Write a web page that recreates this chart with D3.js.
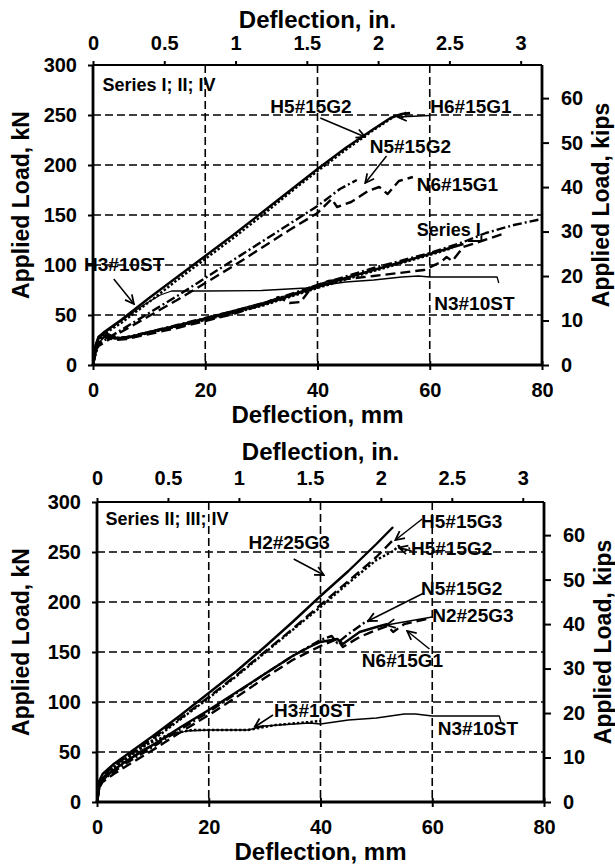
<!DOCTYPE html>
<html>
<head>
<meta charset="utf-8">
<script src="https://cdnjs.cloudflare.com/ajax/libs/d3/7.8.5/d3.min.js"></script>
<style>
    body { margin: 0; background: #fff; }
    svg text { font-family: "Liberation Sans", Arial, Helvetica, sans-serif; font-weight: bold; fill: #000; }
</style>
</head>
<body>
<div id="chart"></div>
<script>

// tick labels
const kNTicks = [0, 50, 100, 150, 200, 250, 300];
const mmTicks = [0, 20, 40, 60, 80];
const inTicks = [0, 0.5, 1, 1.5, 2, 2.5, 3];
const kipTicks = [0, 10, 20, 30, 40, 50, 60];

// ---- top chart: Series I; II; IV  [deflection mm, load kN] ----
const topH6_15G1 = [[0,0],[0.5,20],[1,28],[2,33],[5,45],[10,67],[15,88],[20,109],[25,130],[30,152],[35,174],[40,196],[45,217],[50,236],[53,247],[55,251],[56.5,252]];
const topH5_15G2 = [[0,0],[0.5,18],[1,26],[2,31],[5,42],[10,63],[15,85],[20,106],[25,127],[30,149],[35,172],[40,194],[45,215],[50,235],[53,246],[54,250],[55,247],[56,253]];
const topN5_15G2 = [[0,0],[0.5,16],[1,21],[3,28],[5,35],[10,52],[15,69],[20,87],[25,105],[30,123],[35,141],[40,159],[44,176],[47,185]];
const topN6_15G1 = [[0,0],[0.5,15],[1,19],[3,26],[5,33],[10,49],[15,65],[20,82],[25,99],[30,117],[35,135],[40,152],[42.5,166],[43.5,158],[46,163],[49,174],[51,178],[52.5,171],[54.5,184],[57,188]];
const topH3_10ST = [[0,0],[0.5,20],[1,27],[3,36],[6,48],[9,60],[12,70],[14,74],[20,74],[30,74.5],[38,77],[41,80]];
const topN3_10ST = [[0,0],[1,22],[2,28],[4,26],[8,30],[15,40],[20,47],[30,62],[40,79],[45,83],[50,85],[55,88],[58,89],[60,88],[72,88],[72.3,82]];
const topS1Solid = [[0,0],[0.5,20],[1,28],[2,32],[3,30],[4,27],[6,27],[8,30],[10,33],[15,39],[20,46],[25,53],[30,60],[35,69],[40,78],[45,87],[50,95],[55,103],[60,111],[63,116],[66,121]];
const topS1Dash = [[0,0],[0.5,18],[1,24],[2,28],[4,25],[6,26],[10,31],[15,37],[20,44],[25,51],[30,60],[33,68],[35,62],[37,63],[39,78],[42,84],[50,89],[59,95],[62,103],[63,108],[64,104],[66,118],[73,131]];
const topS1DashDot = [[0,0],[0.5,19],[1,26],[2,30],[4,27],[6,28],[10,33],[15,40],[20,47],[30,61],[40,80],[50,97],[60,112],[66,123],[70,132],[75,140],[80,146]];
const topS1Dot = [[0,0],[1,22],[2,29],[4,27],[6,27],[10,32],[20,45],[30,59],[40,77],[50,94],[60,110],[64,117]];

// ---- bottom chart: Series II; III; IV ----
const botH2_25G3 = [[0,0],[0.3,20],[1,28],[3,38],[5,46],[10,66],[15,87],[20,109],[25,131],[30,155],[35,180],[40,206],[45,231],[50,258],[53,275]];
const botH5_15G3 = [[0,0],[0.3,18],[1,26],[3,36],[5,44],[10,64],[15,84],[20,105],[25,127],[30,150],[35,173],[40,197],[45,221],[50,245],[53,262]];
const botH5_15G2 = [[0,0],[0.3,16],[1,24],[3,34],[5,42],[10,62],[15,83],[20,104],[25,126],[30,149],[35,172],[40,195],[45,219],[50,242],[53,251],[54,256],[55,251],[56,254]];
const botN2_25G3 = [[0,0],[0.5,18],[1,24],[3,32],[5,40],[10,57],[15,75],[20,92],[25,110],[30,128],[35,146],[38,155],[40,160],[43,163],[44,158],[47,170],[50,175],[52,178]];
const botN5_15G2 = [[0,0],[0.5,17],[1,22],[3,30],[5,38],[10,55],[15,73],[20,90],[25,109],[30,128],[35,146],[40,162],[42,166],[43,159],[45,168],[48,180],[49,182]];
const botN6_15G1 = [[0,0],[0.5,15],[1,20],[3,28],[5,35],[10,52],[15,70],[20,87],[25,105],[30,124],[35,142],[40,156],[43,163],[44,155],[47,165],[50,172],[52,176],[53,170],[55,178],[59,183]];
const botH3_10ST = [[0,0],[0.5,20],[3,35],[8,55],[13,68],[17,72],[27,72],[32,77],[40,81]];
const botN3_10ST = [[0,0],[0.5,18],[3,32],[8,52],[13,66],[16,71],[20,72],[27,72],[30,76],[38,79],[40,78],[45,82],[50,84],[55,88],[57,88],[60,86],[72,86],[72.3,80]];


class LoadDeflectionVis {
    constructor(svg, box, curves, notes) {
        this.svg = svg;
        this.box = box;
        this.curves = curves;
        this.notes = notes;

        this.initVis();
    }

    initVis() {
        let vis = this;

        vis.g = vis.svg.append("g")
            .attr("transform", `translate(${vis.box.left}, ${vis.box.top})`);

        vis.width = vis.box.width;
        vis.height = vis.box.height;

        vis.x = d3.scaleLinear().domain([0, 80]).range([0, vis.width]);
        vis.xIn = d3.scaleLinear().domain([0, 80 / 25.4]).range([0, vis.width]);
        vis.y = d3.scaleLinear().domain([0, 300]).range([vis.height, 0]);
        vis.yKip = d3.scaleLinear().domain([0, 300 / 4.448]).range([vis.height, 0]);

        vis.line = d3.line()
            .x(d => vis.x(d[0]))
            .y(d => vis.y(d[1]));

        vis.drawGrid();
        vis.drawCurves();
        vis.drawAxes();
        vis.drawNotes();
    }

    drawGrid() {
        let vis = this;

        vis.g.selectAll(".hgrid")
            .data(kNTicks.filter(d => d > 0 && d < 300))
            .enter()
            .append("line")
            .attr("class", "hgrid")
            .attr("x1", 0)
            .attr("x2", vis.width)
            .attr("y1", d => vis.y(d))
            .attr("y2", d => vis.y(d))
            .attr("stroke", "#000")
            .attr("stroke-width", 1.6)
            .attr("stroke-dasharray", "8,4");

        vis.g.selectAll(".vgrid")
            .data(mmTicks.filter(d => d > 0 && d < 80))
            .enter()
            .append("line")
            .attr("class", "vgrid")
            .attr("x1", d => vis.x(d))
            .attr("x2", d => vis.x(d))
            .attr("y1", 0)
            .attr("y2", vis.height)
            .attr("stroke", "#000")
            .attr("stroke-width", 1.6)
            .attr("stroke-dasharray", "8,4");
    }

    drawCurves() {
        let vis = this;

        // line styles of the scanned plot
        let dashes = {
            solid: null,
            thin: null,
            dash: "10,5",
            dot: "2.5,2",
            dashdot: "9,3,2,3"
        };

        vis.g.selectAll(".curve")
            .data(vis.curves)
            .enter()
            .append("path")
            .attr("class", "curve")
            .attr("d", d => vis.line(d.values))
            .attr("fill", "none")
            .attr("stroke", "#000")
            .attr("stroke-width", d => d.style === "thin" ? 1.3 : 2.4)
            .attr("stroke-dasharray", d => dashes[d.style])
            .attr("stroke-linejoin", "round");
    }

    drawAxes() {
        let vis = this;

        // left kN
        let left = vis.g.append("g")
            .call(d3.axisLeft(vis.y).tickValues(kNTicks).tickSize(5).tickPadding(11));
        // bottom mm
        let bottom = vis.g.append("g")
            .attr("transform", `translate(0, ${vis.height})`)
            .call(d3.axisBottom(vis.x).tickValues(mmTicks).tickSize(5).tickPadding(13));
        // top inches
        let top = vis.g.append("g")
            .call(d3.axisTop(vis.xIn).tickValues(inTicks).tickFormat(d3.format("")).tickSize(4).tickPadding(vis.box.inPad));
        // right kips
        let right = vis.g.append("g")
            .attr("transform", `translate(${vis.width}, 0)`)
            .call(d3.axisRight(vis.yKip).tickValues(kipTicks).tickSize(7).tickPadding(12));

        [left, bottom, top, right].forEach(a => {
            a.select(".domain").remove();
            a.selectAll(".tick line").attr("stroke", "#000").attr("stroke-width", 2);
            a.selectAll(".tick text").style("font-size", "20px");
        });

        // small inner tick on mm axis
        bottom.selectAll(".tick").append("line")
            .attr("y2", -4)
            .attr("stroke", "#000")
            .attr("stroke-width", 2);

        // frame
        vis.g.append("line").attr("x1", 0).attr("x2", vis.width).attr("y1", 0).attr("y2", 0)
            .attr("stroke", "#000").attr("stroke-width", 2.2);
        vis.g.append("line").attr("x1", 0).attr("x2", vis.width).attr("y1", vis.height).attr("y2", vis.height)
            .attr("stroke", "#000").attr("stroke-width", 2.8);
        vis.g.append("line").attr("x1", 0).attr("x2", 0).attr("y1", 0).attr("y2", vis.height)
            .attr("stroke", "#000").attr("stroke-width", 2.8);
        vis.g.append("line").attr("x1", vis.width).attr("x2", vis.width).attr("y1", 0).attr("y2", vis.height)
            .attr("stroke", "#000").attr("stroke-width", 2.8);

        // titles
        vis.g.append("text")
            .attr("x", vis.width / 2)
            .attr("y", -vis.box.inTitle)
            .attr("text-anchor", "middle")
            .style("font-size", "24px")
            .text("Deflection, in.");

        vis.g.append("text")
            .attr("x", vis.width / 2)
            .attr("y", vis.height + 58)
            .attr("text-anchor", "middle")
            .style("font-size", "24px")
            .text("Deflection, mm");

        vis.g.append("text")
            .attr("transform", `translate(${29 - vis.box.left}, ${vis.height / 2 - 10}) rotate(-90)`)
            .attr("text-anchor", "middle")
            .style("font-size", "23px")
            .text("Applied Load, kN");

        vis.g.append("text")
            .attr("transform", `translate(${vis.box.kipsX - vis.box.left}, ${vis.height / 2 - 10}) rotate(-90)`)
            .attr("text-anchor", "middle")
            .style("font-size", "23px")
            .text("Applied Load, kips");
    }

    drawNotes() {
        let vis = this;

        vis.g.selectAll(".note")
            .data(vis.notes)
            .enter()
            .append("text")
            .attr("class", "note")
            .attr("x", d => vis.x(d.x))
            .attr("y", d => vis.y(d.y))
            .style("font-size", d => d.series ? "18px" : "19px")
            .text(d => d.text);

        let arrows = vis.notes.filter(d => d.arrow);

        vis.g.selectAll(".arrow")
            .data(arrows)
            .enter()
            .append("line")
            .attr("class", "arrow")
            .attr("x1", d => vis.x(d.arrow[0]))
            .attr("y1", d => vis.y(d.arrow[1]))
            .attr("x2", d => vis.x(d.arrow[2]))
            .attr("y2", d => vis.y(d.arrow[3]))
            .attr("stroke", "#000")
            .attr("stroke-width", 1.5)
            .attr("marker-end", "url(#arrowhead)");

        let hooks = vis.notes.filter(d => d.hook);
        vis.g.selectAll(".hook")
            .data(hooks)
            .enter()
            .append("path")
            .attr("class", "hook")
            .attr("d", d => d3.line()(d.hook.map(p => [vis.x(p[0]), vis.y(p[1])])))
            .attr("fill", "none")
            .attr("stroke", "#000")
            .attr("stroke-width", 2);
    }
}


let svg = d3.select("#chart")
    .append("svg")
    .attr("width", 615)
    .attr("height", 866);

svg.append("rect").attr("width", 615).attr("height", 866).attr("fill", "#fff");

svg.append("defs").append("marker")
    .attr("id", "arrowhead")
    .attr("viewBox", "0 0 10 10")
    .attr("refX", 9)
    .attr("refY", 5)
    .attr("markerWidth", 11)
    .attr("markerHeight", 11)
    .attr("markerUnits", "userSpaceOnUse")
    .attr("orient", "auto")
    .append("path")
    .attr("d", "M1,1 L9,5 L1,9")
    .attr("fill", "none")
    .attr("stroke", "#000")
    .attr("stroke-width", 1.6);

let topCurves = [
    {values: topS1Dot, style: "dot"},
    {values: topS1DashDot, style: "dashdot"},
    {values: topS1Dash, style: "dash"},
    {values: topS1Solid, style: "solid"},
    {values: topN3_10ST, style: "thin"},
    {values: topH3_10ST, style: "thin"},
    {values: topN6_15G1, style: "dash"},
    {values: topN5_15G2, style: "dashdot"},
    {values: topH5_15G2, style: "dot"},
    {values: topH6_15G1, style: "solid"}
];

let topNotes = [
    {text: "Series I; II; IV", x: 1.7, y: 274, series: true},
    {text: "H5#15G2", x: 31.6, y: 252, arrow: [40.5, 247, 48.5, 228]},
    {text: "H6#15G1", x: 60.1, y: 252, arrow: [60, 249.5, 54.3, 248]},
    {text: "N5#15G2", x: 49.3, y: 212, arrow: [52.3, 209, 48.5, 182]},
    {text: "N6#15G1", x: 57.7, y: 174},
    {text: "Series I", x: 57.7, y: 129, series: true, hook: [[69.2, 129], [69.2, 124], [66.8, 124]]},
    {text: "H3#10ST", x: -1.6, y: 94, arrow: [3.7, 86, 7.3, 61]},
    {text: "N3#10ST", x: 60.8, y: 55}
];

let botCurves = [
    {values: botN3_10ST, style: "thin"},
    {values: botH3_10ST, style: "dot"},
    {values: botN6_15G1, style: "dash"},
    {values: botN5_15G2, style: "dashdot"},
    {values: botN2_25G3, style: "solid"},
    {values: botH5_15G2, style: "dot"},
    {values: botH5_15G3, style: "dash"},
    {values: botH2_25G3, style: "solid"}
];

let botNotes = [
    {text: "Series II; III; IV", x: 1.5, y: 277, series: true},
    {text: "H5#15G3", x: 58, y: 274, arrow: [58.2, 283, 53.4, 262]},
    {text: "H2#25G3", x: 27.1, y: 253, arrow: [35.2, 243, 40.6, 227]},
    {text: "H5#15G2", x: 56.2, y: 247, arrow: [56.3, 251, 54, 254.5]},
    {text: "N5#15G2", x: 58, y: 207, arrow: [58.5, 209, 48.5, 181]},
    {text: "N2#25G3", x: 60, y: 180, arrow: [60, 185, 51.8, 177]},
    {text: "N6#15G1", x: 47.4, y: 135, arrow: [59.5, 153, 55.5, 171]},
    {text: "H3#10ST", x: 31.7, y: 85, arrow: [31.5, 87, 28.2, 75]},
    {text: "N3#10ST", x: 61, y: 67}
];

new LoadDeflectionVis(svg, {left: 93, top: 65, width: 449, height: 300, kipsX: 609, inPad: 11, inTitle: 37}, topCurves, topNotes);
new LoadDeflectionVis(svg, {left: 97, top: 502, width: 447, height: 300, kipsX: 611, inPad: 13, inTitle: 42}, botCurves, botNotes);

</script>
</body>
</html>
